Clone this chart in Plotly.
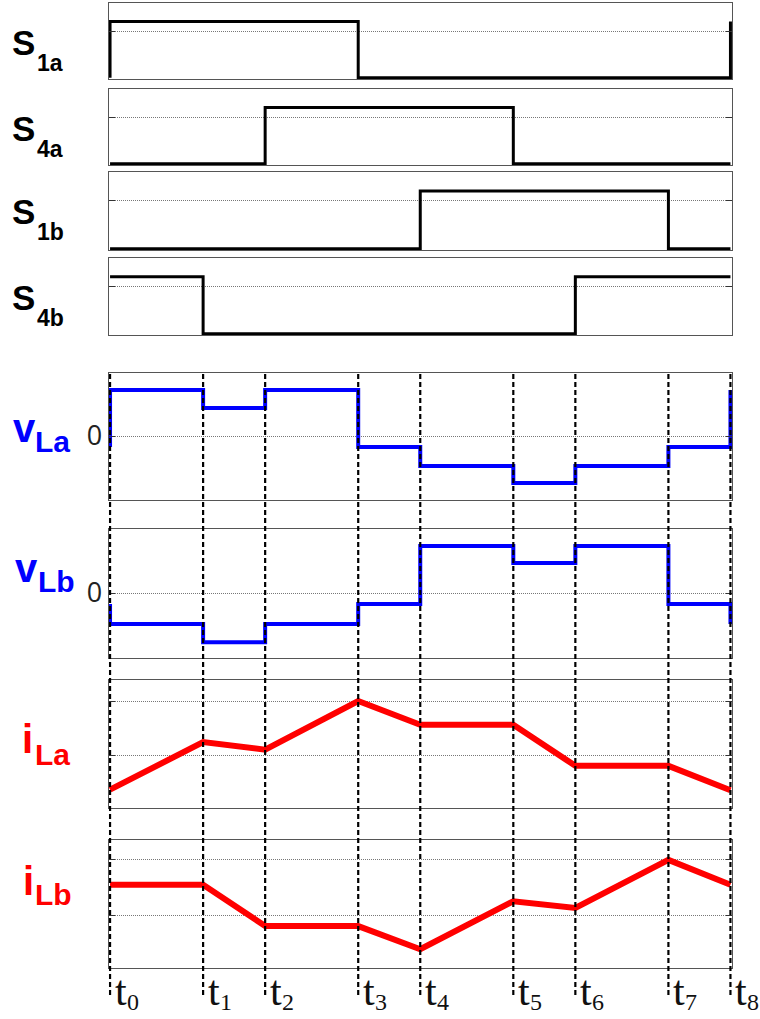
import plotly.graph_objects as go

W, H = 760, 1019

# Switching instants t0 ... t8
t = [0, 1.5, 2.5, 4, 5, 6.5, 7.5, 9, 10]
t_names = ["0", "1", "2", "3", "4", "5", "6", "7", "8"]

# Gate signals: level in each interval [t_k, t_k+1], with the level just before t0 and at t8
S1a = [1, 1, 1, 0, 0, 0, 0, 0]
S4a = [0, 0, 1, 1, 1, 0, 0, 0]
S1b = [0, 0, 0, 0, 1, 1, 1, 0]
S4b = [1, 0, 0, 0, 0, 0, 1, 1]
S_start = {"1a": 0, "4a": 0, "1b": 0, "4b": 1}
S_end = {"1a": 1, "4a": 0, "1b": 0, "4b": 1}

# Inductor voltages (normalised), one level per interval
vLa = [1.0, 0.61, 1.0, -0.24, -0.65, -1.02, -0.65, -0.24]
vLb = [-0.67, -1.07, -0.67, -0.24, 1.02, 0.65, 1.02, -0.24]
vLa_start, vLa_end = -0.24, 1.0
vLb_start, vLb_end = -0.24, -0.67

# Inductor currents (normalised) at t0 ... t8
iLa = [-0.64, 0.24, 0.10, 1.0, 0.56, 0.56, -0.20, -0.20, -0.65]
iLb = [0.55, 0.55, -0.20, -0.20, -0.62, 0.25, 0.13, 1.0, 0.55]

# ---- layout geometry (pixels) ----
panels = [(3, 79), (89, 165), (172, 250), (258, 335),
          (373, 500), (529, 658), (680, 808), (840, 968)]
X_LEFT, X_RIGHT = 108.5, 732
x_range = [-0.025, 10.025]

s_range = [-0.02, 1.33]
y_ranges = [s_range] * 4 + [[-1.39, 1.37], [-1.41, 1.39], [-0.98, 1.39], [-0.96, 1.36]]
y_ticks = [[0.83]] * 4 + [[0], [0], [0, 1], [0, 1]]
y_ticktext = [[""]] * 4 + [["0"], ["0"], ["", ""], ["", ""]]


def step_xy(levels, start, end):
    return [t[0]] + list(t), [start] + list(levels) + [end]


fig = go.Figure()


def ax(i):
    return ("x" if i == 0 else f"x{i+1}", "y" if i == 0 else f"y{i+1}")


# gate signals
for i, (lv, key) in enumerate([(S1a, "1a"), (S4a, "4a"), (S1b, "1b"), (S4b, "4b")]):
    xs, ys = step_xy(lv, S_start[key], S_end[key])
    xa, ya = ax(i)
    fig.add_trace(go.Scatter(x=xs, y=ys, mode="lines", line_shape="hv",
                             line=dict(color="black", width=3), xaxis=xa, yaxis=ya,
                             showlegend=False, hoverinfo="skip"))

# voltages
for i, (lv, st, en) in zip([4, 5], [(vLa, vLa_start, vLa_end), (vLb, vLb_start, vLb_end)]):
    xs, ys = step_xy(lv, st, en)
    xa, ya = ax(i)
    fig.add_trace(go.Scatter(x=xs, y=ys, mode="lines", line_shape="hv",
                             line=dict(color="#0000ff", width=4), xaxis=xa, yaxis=ya,
                             showlegend=False, hoverinfo="skip"))

# currents
for i, cur in zip([6, 7], [iLa, iLb]):
    xa, ya = ax(i)
    fig.add_trace(go.Scatter(x=t, y=cur, mode="lines",
                             line=dict(color="#ff0000", width=6), xaxis=xa, yaxis=ya,
                             showlegend=False, hoverinfo="skip"))

layout = dict(width=W, height=H, margin=dict(l=0, r=0, t=0, b=0),
              template="none", plot_bgcolor="white", paper_bgcolor="white",
              showlegend=False)

for i, (top, bot) in enumerate(panels):
    xa, ya = ax(i)
    xkey = "xaxis" if i == 0 else f"xaxis{i+1}"
    ykey = "yaxis" if i == 0 else f"yaxis{i+1}"
    layout[xkey] = dict(domain=[X_LEFT / W, X_RIGHT / W], range=x_range, anchor=ya,
                        showline=True, mirror=True, linecolor="#555", linewidth=1,
                        showgrid=False, zeroline=False, ticks="", showticklabels=False,
                        fixedrange=True)
    layout[ykey] = dict(domain=[1 - bot / H, 1 - top / H], range=y_ranges[i], anchor=xa,
                        tickmode="array", tickvals=y_ticks[i], ticktext=y_ticktext[i],
                        showline=True, mirror="ticks", linecolor="#555", linewidth=1,
                        ticks="inside", ticklen=6, tickcolor="#333", tickwidth=1,
                        showgrid=True, gridcolor="#777", griddash="1px,1px", gridwidth=1,
                        zeroline=False, automargin=False, ticklabelstandoff=0,
                        tickfont=dict(family="Open Sans", size=27, color="#222"),
                        fixedrange=True)

fig.update_layout(**layout)

# dashed time markers through the voltage and current panels
for tk in t:
    fig.add_shape(type="line", xref="x", yref="paper", x0=tk, x1=tk,
                  y0=1 - 995 / H, y1=1 - 373 / H, layer="above",
                  line=dict(color="black", width=2.2, dash="5px,3px"))


def label(text, x_px, baseline_px, size, color, family="Liberation Sans", weight="bold", k=0.346):
    fig.add_annotation(text=text, xref="paper", yref="paper",
                       x=x_px / W, y=1 - (baseline_px - k * size) / H,
                       xanchor="left", yanchor="middle", showarrow=False,
                       borderpad=0, borderwidth=0,
                       font=dict(family=family, size=size, color=color, weight=weight))


# gate signal names
for (top, bot), sub in zip(panels[:4], ["1a", "4a", "1b", "4b"]):
    label("S", 12, top + 52, 35, "black")
    label(sub, 37, top + 67.5, 23, "black")

# voltage names
label("v", 13, 442, 40, "#0000ff")
label("La", 35, 452, 30, "#0000ff")
label("v", 15, 582, 40, "#0000ff")
label("Lb", 38, 592, 30, "#0000ff")

# current names
label("i", 22, 753, 40, "#ff0000")
label("La", 35, 765, 30, "#ff0000")
label("i", 23, 895, 40, "#ff0000")
label("Lb", 35, 905, 30, "#ff0000")

# time instant names under the markers
for tk, nm in zip(t, t_names):
    fig.add_annotation(text="t", xref="x8", yref="paper", x=tk, y=1 - (1005 - 0.34 * 42) / H,
                       xanchor="left", yanchor="middle", xshift=5, showarrow=False,
                       borderpad=0, borderwidth=0,
                       font=dict(family="Liberation Serif", size=42, color="#111"))
    fig.add_annotation(text=nm, xref="x8", yref="paper", x=tk, y=1 - (1010 - 0.34 * 24) / H,
                       xanchor="left", yanchor="middle", xshift=17, showarrow=False,
                       borderpad=0, borderwidth=0,
                       font=dict(family="Liberation Serif", size=24, color="#111"))

fig.write_html("out.html")
